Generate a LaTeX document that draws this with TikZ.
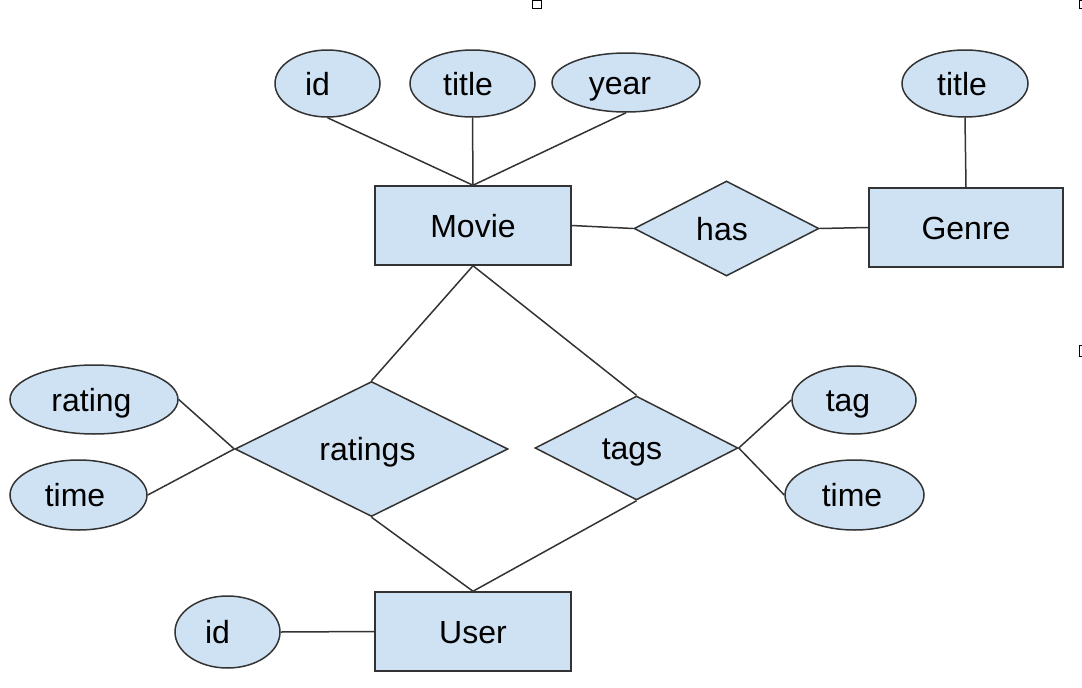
\documentclass[tikz,border=0pt]{standalone}
\usepackage{fontspec}
\setmainfont{Liberation Sans}
\usetikzlibrary{shapes.geometric}
\definecolor{boxblue}{HTML}{CFE2F3}
\definecolor{edgegray}{HTML}{333333}
\begin{document}
\begin{tikzpicture}[x=1pt,y=-1pt,
  base/.style={draw=edgegray, fill=boxblue, line width=1.5pt, inner sep=0pt,
    font=\fontsize{32}{37}\selectfont, text height=23pt, text depth=0pt},
  ent/.style={base, rectangle, minimum height=79pt},
  rel/.style={base, diamond, aspect=2},
  attr/.style={base, ellipse},
  link/.style={draw=edgegray, line width=1.5pt}]
\useasboundingbox (0,0) rectangle (1082,688);
% entities
\node[ent, minimum width=196pt] (movie) at (473,225.5) {Movie};
\node[ent, minimum width=194pt] (genre) at (966,227.5) {Genre};
\node[ent, minimum width=196pt] (user) at (473,631.5) {User};
% relationships
\node[rel, minimum width=185pt, minimum height=95pt] (has) at (726.5,228.5) {\kern-9pt has};
\node[rel, minimum width=273pt, minimum height=135pt] (ratings) at (371.5,449) {\kern-8pt ratings};
\node[rel, minimum width=203pt, minimum height=104pt] (tags) at (636.5,448) {\kern-9pt tags};
% attributes
\node[attr, minimum width=105pt, minimum height=67pt] (mid) at (327.5,83.5) {\kern-20pt id};
\node[attr, minimum width=125pt, minimum height=67pt] (mtitle) at (472.5,83.5) {\kern-9pt title};
\node[attr, minimum width=148pt, minimum height=59pt] (myear) at (626,82.5) {\kern-12pt year};
\node[attr, minimum width=126pt, minimum height=67pt] (gtitle) at (965,83.5) {\kern-6pt title};
\node[attr, minimum width=168pt, minimum height=69pt] (rating) at (94,399.5) {\kern-5pt rating};
\node[attr, minimum width=137pt, minimum height=70pt] (rtime) at (78.5,495) {\kern-7pt time};
\node[attr, minimum width=124pt, minimum height=68pt] (tag) at (854,400) {\kern-12pt tag};
\node[attr, minimum width=139pt, minimum height=70pt] (ttime) at (854.5,495) {\kern-5pt time};
\node[attr, minimum width=105pt, minimum height=72pt] (uid) at (227.5,632) {\kern-20pt id};
% connectors
\draw[link] (mid.south) -- (movie.north);
\draw[link] (mtitle.south) -- (movie.north);
\draw[link] (myear.south) -- (movie.north);
\draw[link] (movie.east) -- (has.west);
\draw[link] (has.east) -- (genre.west);
\draw[link] (gtitle.south) -- (genre.north);
\draw[link] (movie.south) -- (ratings.north);
\draw[link] (movie.south) -- (tags.north);
\draw[link] (ratings.south) -- (user.north);
\draw[link] (tags.south) -- (user.north);
\draw[link] (rating.east) -- (ratings.west);
\draw[link] (rtime.east) -- (ratings.west);
\draw[link] (tag.west) -- (tags.east);
\draw[link] (ttime.west) -- (tags.east);
\draw[link] (uid.east) -- (user.west);
% screen artefacts
\draw[line width=1pt, fill=white] (532.5,0.5) rectangle (541.5,8);
\draw[line width=1pt] (1082,0.5) -- (1079.5,0.5) -- (1079.5,8) -- (1082,8);
\draw[line width=1pt] (1082,345.5) -- (1079.5,345.5) -- (1079.5,356) -- (1082,356);
\end{tikzpicture}
\end{document}
